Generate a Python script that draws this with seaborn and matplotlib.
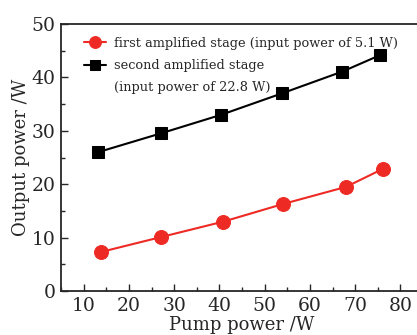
import seaborn as sns
import pandas as pd
import matplotlib.pyplot as plt
from matplotlib.lines import Line2D
from matplotlib.ticker import MultipleLocator

# pump power (W) and output power (W)
pump_first = [13.8, 27.1, 40.9, 54.1, 68.0, 76.2]
out_first = [7.3, 10.1, 13.0, 16.3, 19.5, 22.9]
pump_second = [13.2, 27.0, 40.4, 53.8, 67.2, 75.6]
out_second = [26.0, 29.5, 33.0, 37.0, 41.1, 44.2]

label_first = "first amplified stage (input power of 5.1 W)"
label_second = "second amplified stage"
label_second_2 = "(input power of 22.8 W)"

sns.set_style("ticks")
plt.rcParams['font.family'] = ['DejaVu Serif']
plt.rcParams['mathtext.fontset'] = 'dejavuserif'

df1 = pd.DataFrame({"pump": pump_first, "out": out_first})
df2 = pd.DataFrame({"pump": pump_second, "out": out_second})

fig = plt.figure(figsize=(4.17, 3.35), dpi=100)
ax = fig.add_axes([61 / 417, 44 / 335, 362 / 417, 267 / 335])

sns.lineplot(data=df1, x="pump", y="out", ax=ax, color="#ee2a24", marker="o",
             markersize=10, markeredgecolor="#ee2a24", linewidth=1.5,
             label=label_first)
sns.lineplot(data=df2, x="pump", y="out", ax=ax, color="black", marker="s",
             markersize=8.5, markeredgecolor="black", linewidth=1.5,
             label=label_second)

ax.set_xlim(5, 85)
ax.set_ylim(0, 50)
ax.xaxis.set_major_locator(MultipleLocator(10))
ax.xaxis.set_minor_locator(MultipleLocator(5))
ax.yaxis.set_major_locator(MultipleLocator(10))
ax.yaxis.set_minor_locator(MultipleLocator(5))
ax.tick_params(which="major", direction="in", length=5, width=1, labelsize=13.5, pad=4)
ax.tick_params(which="minor", direction="in", length=3, width=1)
for s in ax.spines.values():
    s.set_linewidth(1.3)
ax.spines["right"].set_visible(False)

ax.set_xlabel("Pump power /W", fontsize=13, labelpad=1)
ax.set_ylabel("Output power /W", fontsize=13, labelpad=1)

# second label wraps onto a line with no handle
handles, labels = ax.get_legend_handles_labels()
handles.append(Line2D([], [], linestyle="none"))
labels.append(label_second_2)
leg = ax.legend(handles, labels, loc="upper left", frameon=False, fontsize=9.3,
                handlelength=1.7, handletextpad=0.6, borderaxespad=0.4,
                labelspacing=0.7, markerscale=0.85, bbox_to_anchor=(0.035, 0.99))

fig.savefig("out.png", dpi=100)
